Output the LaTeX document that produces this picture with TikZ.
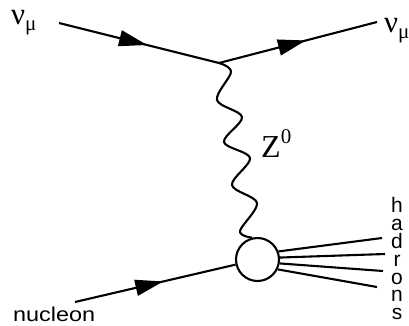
\documentclass[tikz,border=0pt]{standalone}
\usepackage{fontspec}
\usepackage{graphicx}
\setmainfont{Liberation Serif}
\newfontfamily\sansf{Liberation Sans}
\usetikzlibrary{arrows.meta,decorations.markings}
\tikzset{
  thick line/.style={line width=2.1pt},
  fermion/.style={thick line, postaction={decorate},
    decoration={markings, mark=at position 0.55 with {\arrow{Triangle[length=28pt,width=16pt]}}}},
  blob/.style={circle, draw, line width=2.1pt, minimum size=43pt, inner sep=0pt, fill=white},
  lab/.style={inner sep=0pt, anchor=base west},
}
\newcommand{\nulab}{\fontsize{31}{31}\selectfont ν\raisebox{-6pt}{\fontsize{21}{21}\selectfont μ}}
\newcommand{\hadfont}{\sansf\fontsize{21}{17.9}\selectfont\lineskiplimit=-20pt\relax}
\begin{document}
\begin{tikzpicture}[x=1pt,y=-1pt]
\useasboundingbox (0,0) rectangle (409,325);
% labels
\node[lab] (lnu) at (11,24) {\nulab};
\node[lab] (rnu) at (384,32) {\nulab};
\node[lab] (zlab) at (261,157) {\fontsize{32}{32}\selectfont Z\raisebox{14pt}{\fontsize{21}{21}\selectfont 0}};
\node[lab] (nlab) at (13,321.5) {\sansf\fontsize{20}{20}\selectfont\scalebox{1.17}[1]{nucleon}};
\node[inner sep=0pt, anchor=north, align=center, font=\hadfont] (hlab) at (397,197) {h\\a\\d\\r\\o\\n\\s};
% points
\coordinate (nuin) at (59,23);
\coordinate (v) at (219,63);
\coordinate (nuout) at (377,22);
\coordinate (nin) at (75,302);
\coordinate (h1) at (382,238);
\coordinate (h2) at (385,254);
\coordinate (h3) at (383,271);
\coordinate (h4) at (377,287);
\node[blob] (blob) at (257.5,259.5) {};
% fermion lines
\draw[fermion] (nuin) -- (v);
\draw[fermion] (v) -- (nuout);
\draw[fermion] (nin) -- (blob);
% hadrons
\draw[thick line] (blob.21) -- (h1);
\draw[thick line] (blob.5) -- (h2);
\draw[thick line] (blob.-10) -- (h3);
\draw[thick line] (blob.-26) -- (h4);
% Z boson
\draw[thick line, line join=round] plot[smooth, tension=0.55] coordinates {(v) (231,72) (217,100) (242,117) (224,142) (250,158) (232,185) (257,203) (240,231) (blob.104)};
\end{tikzpicture}
\end{document}
